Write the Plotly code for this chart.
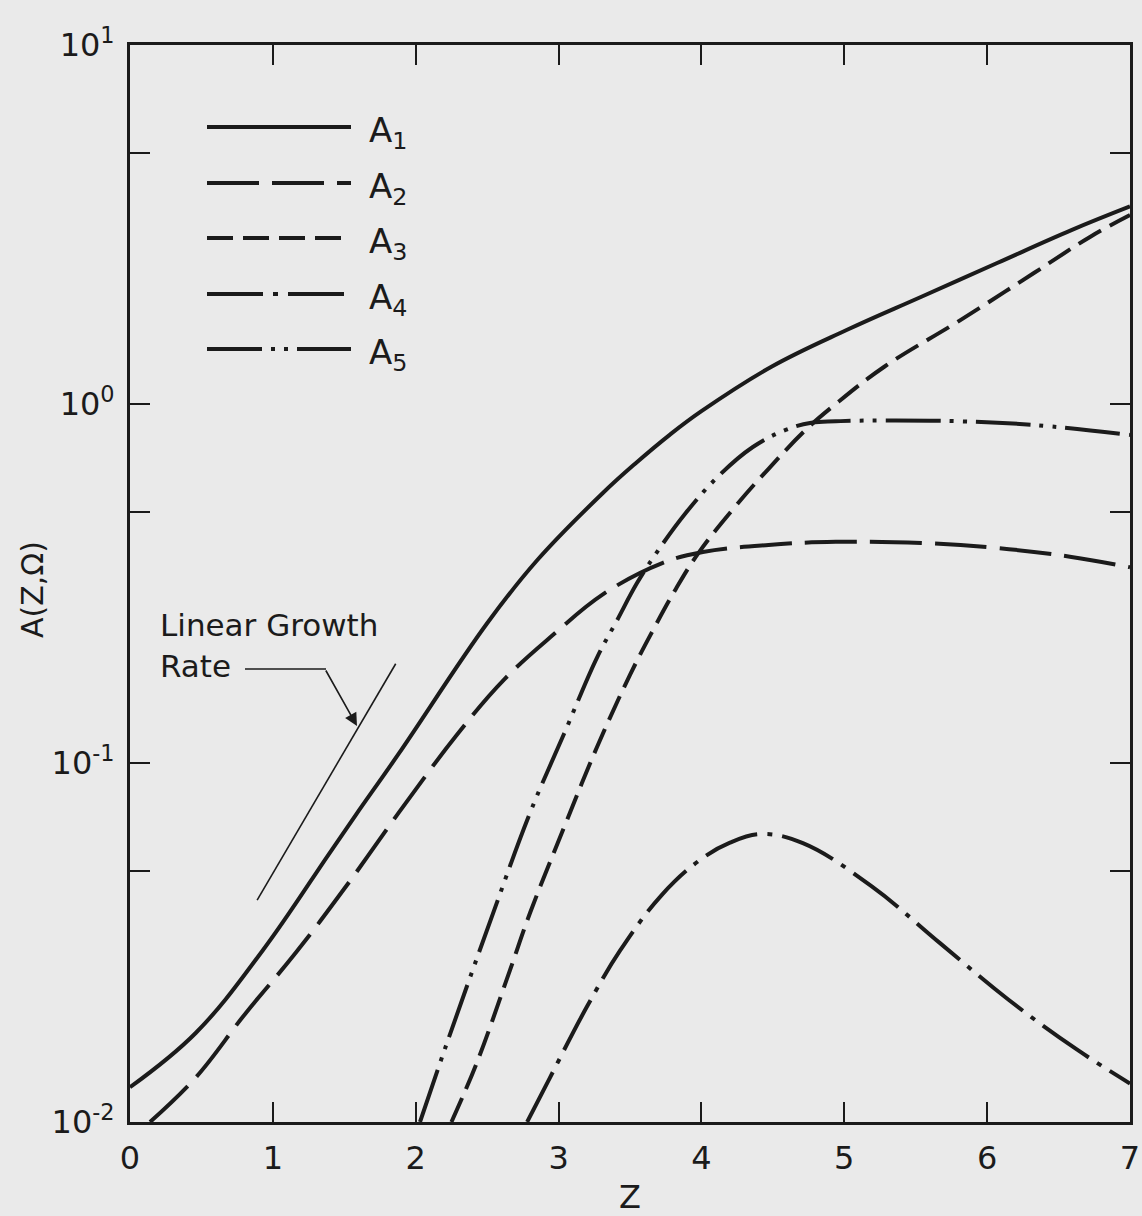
import plotly.graph_objects as go

# ---------------- data ----------------
Z_A1 = [0.0, 0.46, 0.93, 1.39, 1.58, 1.88, 2.50, 2.85, 3.31, 3.54, 3.78, 4.00, 4.49, 5.02, 5.54, 6.07, 6.59, 7.0]
A1 = [0.0125, 0.0177, 0.0301, 0.0556, 0.0716, 0.106, 0.245, 0.367, 0.565, 0.684, 0.822, 0.955, 1.27, 1.61, 1.99, 2.47, 3.05, 3.55]

Z_A2 = [0.14, 0.46, 0.81, 1.16, 1.51, 1.88, 2.29, 2.62, 2.97, 3.31, 3.73, 4.01, 4.47, 4.94, 5.54, 6.07, 6.59, 7.0]
A2 = [0.010, 0.0133, 0.0201, 0.0296, 0.0452, 0.0726, 0.12, 0.171, 0.229, 0.295, 0.361, 0.387, 0.405, 0.413, 0.41, 0.397, 0.375, 0.351]

Z_A3 = [2.25, 2.43, 2.66, 2.80, 3.04, 3.27, 3.50, 3.66, 3.82, 3.98, 4.24, 4.47, 4.73, 4.94, 5.28, 5.81, 6.33, 6.72, 7.0]
A3 = [0.010, 0.0147, 0.0265, 0.0382, 0.0664, 0.111, 0.176, 0.234, 0.305, 0.385, 0.52, 0.66, 0.847, 1.0, 1.27, 1.71, 2.32, 2.92, 3.36]

Z_A4 = [2.78, 2.94, 3.20, 3.43, 3.72, 3.99, 4.20, 4.42, 4.71, 5.19, 5.67, 6.15, 6.63, 7.0]
A4 = [0.010, 0.0133, 0.021, 0.030, 0.0428, 0.0537, 0.060, 0.0634, 0.0598, 0.0454, 0.0315, 0.0219, 0.0159, 0.0128]

Z_A5 = [2.03, 2.20, 2.55, 2.80, 3.04, 3.27, 3.41, 3.545, 3.66, 3.89, 4.12, 4.36, 4.59, 4.77, 4.94, 5.28, 5.81, 6.33, 7.0]
A5 = [0.010, 0.0158, 0.039, 0.0726, 0.121, 0.197, 0.25, 0.315, 0.372, 0.497, 0.63, 0.759, 0.847, 0.887, 0.895, 0.90, 0.895, 0.874, 0.82]

GROWTH_Z = [0.89, 1.86]
GROWTH_A = [0.0415, 0.189]

X_TICKS = [0, 1, 2, 3, 4, 5, 6, 7]
Y_TICKS = [0.01, 0.05, 0.1, 0.5, 1, 5, 10]
Y_TICKTEXT = ["10<sup>-2</sup>", "", "10<sup>-1</sup>", "", "10<sup>0</sup>", "", "10<sup>1</sup>"]

NAMES = ["A<sub>1</sub>", "A<sub>2</sub>", "A<sub>3</sub>", "A<sub>4</sub>", "A<sub>5</sub>"]

# ---------------- styling ----------------
W, H = 1142, 1216
ML, MR, MT, MB = 130, 12, 45, 94
PW, PH = W - ML - MR, H - MT - MB
INK = "#1b1b1b"
BG = "#eaeaea"
FONT = "DejaVu Sans"
DASHES = ["solid", "52px,13px", "26px,10px", "56px,10px,5px,10px", "55px,9px,4px,9px,4px,9px"]


def pxx(x):
    return (x - ML) / PW


def pxy(y):
    return 1 - (y - MT) / PH


fig = go.Figure()
series = [(Z_A1, A1), (Z_A2, A2), (Z_A3, A3), (Z_A4, A4), (Z_A5, A5)]
for (z, a), name, dash in zip(series, NAMES, DASHES):
    fig.add_trace(go.Scatter(
        x=z, y=a, mode="lines", name=name, showlegend=False,
        line=dict(color=INK, width=4, dash=dash, shape="spline", smoothing=1.1),
    ))

fig.add_trace(go.Scatter(
    x=GROWTH_Z, y=GROWTH_A, mode="lines", showlegend=False,
    line=dict(color=INK, width=1.6),
))

shapes = []
annotations = []
# legend drawn as in the original figure
leg_y = [127, 183, 238, 294, 349]
for yy, name, dash in zip(leg_y, NAMES, DASHES):
    shapes.append(dict(type="line", xref="paper", yref="paper",
                       x0=pxx(207), x1=pxx(351), y0=pxy(yy), y1=pxy(yy),
                       line=dict(color=INK, width=4, dash=dash)))
    annotations.append(dict(xref="paper", yref="paper", x=pxx(367), y=pxy(yy + 5),
                            text=name, showarrow=False, xanchor="left", yanchor="middle",
                            font=dict(family=FONT, size=34, color=INK)))

# "Linear Growth Rate" label with leader
annotations.append(dict(xref="paper", yref="paper", x=pxx(158), y=pxy(625),
                        text="Linear Growth", showarrow=False, xanchor="left", yanchor="middle",
                        font=dict(family=FONT, size=31, color=INK)))
annotations.append(dict(xref="paper", yref="paper", x=pxx(158), y=pxy(666),
                        text="Rate", showarrow=False, xanchor="left", yanchor="middle",
                        font=dict(family=FONT, size=31, color=INK)))
shapes.append(dict(type="line", xref="paper", yref="paper",
                   x0=pxx(245), x1=pxx(326), y0=pxy(669), y1=pxy(669),
                   line=dict(color=INK, width=1.6)))
annotations.append(dict(xref="paper", yref="paper", x=pxx(357), y=pxy(726), text="",
                        showarrow=True, arrowhead=2, arrowsize=1.6, arrowwidth=1.6,
                        arrowcolor=INK, ax=-32, ay=-57, axref="pixel", ayref="pixel"))

# y-axis title
annotations.append(dict(xref="paper", yref="paper", x=pxx(32), y=pxy(590),
                        text="A(Z,Ω)", textangle=-90, showarrow=False,
                        xanchor="center", yanchor="middle",
                        font=dict(family=FONT, size=30, color=INK)))

axis_common = dict(
    showline=True, linewidth=3, linecolor=INK, mirror="allticks",
    ticks="inside", ticklen=20, tickwidth=2, tickcolor=INK,
    showgrid=False, zeroline=False, ticklabeloverflow="allow", automargin=False,
    tickfont=dict(family=FONT, size=32, color=INK),
)

fig.update_layout(
    width=W, height=H,
    margin=dict(l=ML, r=MR, t=MT, b=MB, pad=0, autoexpand=False),
    paper_bgcolor=BG, plot_bgcolor=BG,
    font=dict(family=FONT, color=INK),
    xaxis=dict(range=[0, 7], tickvals=X_TICKS, ticklabelstandoff=6,
               title=dict(text="Z", font=dict(family=FONT, size=32, color=INK), standoff=10),
               **axis_common),
    yaxis=dict(type="log", range=[-2, 1], tickvals=Y_TICKS, ticktext=Y_TICKTEXT,
               ticklabelstandoff=6, **axis_common),
    shapes=shapes,
    annotations=annotations,
)

fig.write_html(
    "out.html",
    config={"displayModeBar": False},
    post_script="document.body.style.margin='0px';document.body.style.overflow='hidden';"
                "document.body.style.background='#eaeaea';",
)
